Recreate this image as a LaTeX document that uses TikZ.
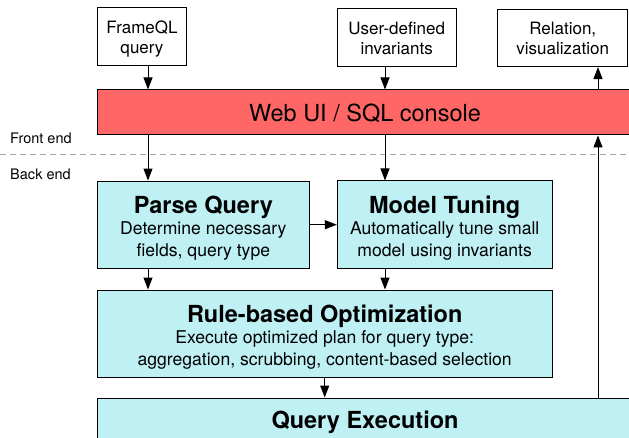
\documentclass[tikz,border=0pt]{standalone}
\usepackage{fontspec}
\setmainfont{TeX Gyre Heros}
\usetikzlibrary{arrows.meta}
\definecolor{consolered}{RGB}{255,102,102}
\definecolor{stagecyan}{RGB}{190,240,244}
\begin{document}
\begin{tikzpicture}[x=1pt,y=1pt,
    every node/.style={inner sep=0pt},
    iobox/.style={draw,line width=1pt,fill=white,align=center,font=\fontsize{17}{20}\selectfont,text height=32.5pt,text depth=0pt},
    stagebox/.style={draw,line width=1pt,fill=stagecyan,align=center,font=\fontsize{17.6}{21.5}\selectfont,text height=63pt,text depth=0pt},
    flow/.style={line width=1pt,-{Triangle[width=9pt,length=12pt]}},
    sidelabel/.style={anchor=base west,font=\fontsize{14.5}{16}\selectfont}]
    \def\stagetitle#1{{\fontsize{23.5}{21.5}\selectfont\bfseries #1}}
    \useasboundingbox (0,0) rectangle (629,-438);
    % front end / back end split
    \coordinate (dashl) at (0,-155);
    \coordinate (dashr) at (629,-155);
    \draw[gray!70,line width=1pt,dash pattern=on 6pt off 4pt] (dashl) -- (dashr);
    \node[sidelabel] (frontend) at (10,-144) {Front end};
    \node[sidelabel] (backend) at (10,-180) {Back end};
    \node[iobox,minimum width=89.5pt,minimum height=58pt] (frameql) at (142,-37) {FrameQL\\query};
    \node[iobox,minimum width=118.7pt,minimum height=57.7pt] (invariants) at (396.7,-37.8) {User-defined\\invariants};
    \node[iobox,minimum width=130pt,minimum height=57.5pt] (relation) at (562.7,-37.8) {Relation,\\visualization};
    \node[draw,line width=1pt,fill=consolered,minimum width=536pt,minimum height=45pt,font=\fontsize{23.5}{24}\selectfont,text height=18pt,text depth=0pt] (console) at (365,-112.5) {Web UI / SQL console};
    \node[stagebox,minimum width=212pt,minimum height=87.3pt] (parse) at (203.3,-224.7) {\stagetitle{Parse Query}\\Determine necessary\\fields, query type};
    \node[stagebox,minimum width=214.7pt,minimum height=88pt] (tuning) at (444.7,-225) {\stagetitle{Model Tuning}\\Automatically tune small\\model using invariants};
    \node[stagebox,minimum width=454.7pt,minimum height=87.3pt] (rule) at (324.7,-333.7) {\stagetitle{Rule-based Optimization}\\Execute optimized plan for query type:\\aggregation, scrubbing, content-based selection};
    \node[stagebox,minimum width=536pt,minimum height=87pt,text height=20pt,text depth=47pt] (exec) at (365,-441.5) {\stagetitle{Query Execution}};
    % arrow columns
    \coordinate (colA) at (148,0);
    \coordinate (colB) at (385,0);
    \coordinate (colC) at (598,0);
    \draw[flow] (frameql.south -| colA) -- (console.north -| colA);
    \draw[flow] (invariants.south -| colB) -- (console.north -| colB);
    \draw[flow] (console.north -| colC) -- (relation.south -| colC);
    \draw[flow] (console.south -| colA) -- (parse.north -| colA);
    \draw[flow] (console.south -| colB) -- (tuning.north -| colB);
    \draw[flow] (parse.east) -- (parse.east -| tuning.west);
    \draw[flow] (parse.south -| colA) -- (rule.north -| colA);
    \draw[flow] (tuning.south -| colB) -- (rule.north -| colB);
    \draw[flow] (rule.south) -- (rule.south |- exec.north);
    \draw[flow] (exec.north -| colC) -- (console.south -| colC);
\end{tikzpicture}
\end{document}
